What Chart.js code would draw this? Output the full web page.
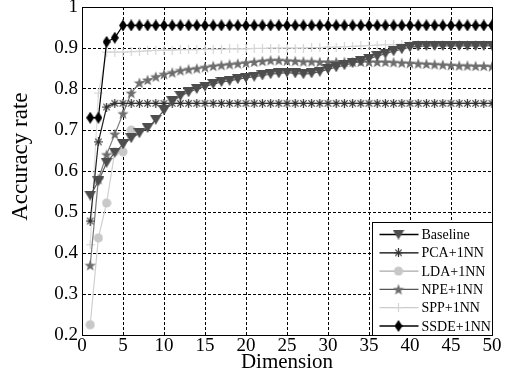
<!DOCTYPE html>
<html>
<head>
<meta charset="utf-8">
<script src="https://cdn.jsdelivr.net/npm/chart.js@4.4.0/dist/chart.umd.min.js"></script>
<style>
  html, body { margin: 0; padding: 0; background: #fff; }
  #wrap { width: 518px; height: 376px; }
</style>
</head>
<body>
<div id="wrap"><canvas id="line-chart"></canvas></div>
<script>
var dims = [1, 2, 3, 4, 5, 6, 7, 8, 9, 10, 11, 12, 13, 14, 15, 16, 17, 18, 19, 20,
  21, 22, 23, 24, 25, 26, 27, 28, 29, 30, 31, 32, 33, 34, 35, 36, 37, 38, 39, 40,
  41, 42, 43, 44, 45, 46, 47, 48, 49, 50];

var baseline = [0.54, 0.575, 0.62, 0.645, 0.665, 0.68, 0.692, 0.705, 0.725, 0.748,
  0.77, 0.783, 0.792, 0.80, 0.806, 0.812, 0.817, 0.82, 0.824, 0.827,
  0.83, 0.833, 0.836, 0.838, 0.84, 0.838, 0.836, 0.838, 0.842, 0.848,
  0.853, 0.858, 0.863, 0.868, 0.874, 0.88, 0.886, 0.892, 0.897, 0.902,
  0.904, 0.905, 0.905, 0.905, 0.905, 0.905, 0.905, 0.905, 0.905, 0.906];

var pca = [0.478, 0.671, 0.756, 0.765, 0.765, 0.765, 0.765, 0.765, 0.765, 0.765,
  0.765, 0.765, 0.765, 0.765, 0.765, 0.765, 0.765, 0.765, 0.765, 0.765,
  0.765, 0.765, 0.765, 0.765, 0.765, 0.765, 0.765, 0.765, 0.765, 0.765,
  0.765, 0.765, 0.765, 0.765, 0.765, 0.765, 0.765, 0.765, 0.765, 0.765,
  0.765, 0.765, 0.765, 0.765, 0.765, 0.765, 0.765, 0.765, 0.765, 0.765];

var lda = [0.225, 0.437, 0.522, 0.647, 0.647, 0.70];

var npe = [0.37, 0.58, 0.64, 0.69, 0.74, 0.79, 0.815, 0.822, 0.83, 0.836,
  0.84, 0.845, 0.848, 0.85, 0.853, 0.856, 0.858, 0.86, 0.862, 0.864,
  0.866, 0.868, 0.87, 0.87, 0.869, 0.868, 0.867, 0.867, 0.866, 0.866,
  0.866, 0.866, 0.866, 0.866, 0.866, 0.866, 0.866, 0.865, 0.864, 0.863,
  0.862, 0.861, 0.86, 0.859, 0.858, 0.857, 0.857, 0.856, 0.856, 0.855];

var spp = [0.42, 0.79, 0.89, 0.89, 0.89, 0.891, 0.892, 0.893, 0.894, 0.895,
  0.895, 0.896, 0.896, 0.896, 0.897, 0.897, 0.897, 0.898, 0.898, 0.898,
  0.899, 0.899, 0.9, 0.9, 0.9, 0.9, 0.9, 0.901, 0.901, 0.902,
  0.902, 0.903, 0.904, 0.905, 0.906, 0.907, 0.908, 0.908, 0.909, 0.909,
  0.909, 0.909, 0.909, 0.909, 0.909, 0.909, 0.909, 0.909, 0.909, 0.909];

var ssde = [0.73, 0.73, 0.915, 0.925, 0.955, 0.955, 0.955, 0.955, 0.955, 0.955,
  0.955, 0.955, 0.955, 0.955, 0.955, 0.955, 0.955, 0.955, 0.955, 0.955,
  0.955, 0.955, 0.955, 0.955, 0.955, 0.955, 0.955, 0.955, 0.955, 0.955,
  0.955, 0.955, 0.955, 0.955, 0.955, 0.955, 0.955, 0.955, 0.955, 0.955,
  0.955, 0.955, 0.955, 0.955, 0.955, 0.955, 0.955, 0.955, 0.955, 0.955];

var seriesNames = ["Baseline", "PCA+1NN", "LDA+1NN", "NPE+1NN", "SPP+1NN", "SSDE+1NN"];
var xTicks = [0, 5, 10, 15, 20, 25, 30, 35, 40, 45, 50];
var yTicks = [0.2, 0.3, 0.4, 0.5, 0.6, 0.7, 0.8, 0.9, 1];

var serif = "'Liberation Serif', 'Times New Roman', serif";

// small canvases used as point styles
function marker(w, h, draw) {
  var c = document.createElement('canvas');
  c.width = w; c.height = h;
  draw(c.getContext('2d'), w, h);
  return c;
}

var triDown = marker(12, 10, function (g, w, h) {
  g.fillStyle = '#4d4d4d';
  g.beginPath(); g.moveTo(0, 0); g.lineTo(w, 0); g.lineTo(w / 2, h); g.closePath(); g.fill();
});
var asterisk = marker(9, 9, function (g) {
  g.strokeStyle = '#333'; g.lineWidth = 1.2;
  g.beginPath();
  g.moveTo(4.5, 0); g.lineTo(4.5, 9);
  g.moveTo(0, 4.5); g.lineTo(9, 4.5);
  g.moveTo(1.3, 1.3); g.lineTo(7.7, 7.7);
  g.moveTo(7.7, 1.3); g.lineTo(1.3, 7.7);
  g.stroke();
});
var dot = marker(10, 10, function (g) {
  g.fillStyle = '#c8c8c8';
  g.beginPath(); g.arc(5, 5, 4.6, 0, Math.PI * 2); g.fill();
});
var star5 = marker(12, 12, function (g) {
  g.fillStyle = '#6e6e6e';
  g.beginPath();
  for (var i = 0; i < 10; i++) {
    var r = i % 2 ? 2.4 : 6;
    var a = -Math.PI / 2 + i * Math.PI / 5;
    g.lineTo(6 + r * Math.cos(a), 6.5 + r * Math.sin(a));
  }
  g.closePath(); g.fill();
});
var plus = marker(9, 9, function (g) {
  g.strokeStyle = '#d4d4d4'; g.lineWidth = 1.2;
  g.beginPath(); g.moveTo(4.5, 0); g.lineTo(4.5, 9); g.moveTo(0, 4.5); g.lineTo(9, 4.5); g.stroke();
});
var diamond = marker(8, 12, function (g, w, h) {
  g.fillStyle = '#000';
  g.beginPath(); g.moveTo(w / 2, 0); g.lineTo(w, h / 2); g.lineTo(w / 2, h); g.lineTo(0, h / 2); g.closePath(); g.fill();
});

function pts(values) {
  return values.map(function (v, i) { return { x: dims[i], y: v }; });
}

function ds(label, values, line, pointImg, legendLine, order) {
  return {
    label: label,
    data: pts(values),
    borderColor: line,
    backgroundColor: line,
    borderWidth: 1.2,
    pointStyle: pointImg,
    pointRadius: 5,
    tension: 0,
    fill: false,
    order: order,
    legendLine: legendLine
  };
}

var frame = {
  id: 'frame',
  afterDatasetsDraw: function (chart) {
    var a = chart.chartArea, c = chart.ctx;
    c.save();
    c.strokeStyle = '#000'; c.lineWidth = 1;
    c.strokeRect(Math.round(a.left) + 0.5, Math.round(a.top) + 0.5,
      Math.round(a.right - a.left), Math.round(a.bottom - a.top));
    c.restore();
  }
};

var boxLegend = {
  id: 'boxLegend',
  afterDraw: function (chart) {
    var a = chart.chartArea, c = chart.ctx;
    var right = Math.round(a.right) + 0.5, bottom = Math.round(a.bottom) + 0.5;
    var w = 120, h = 113, left = right - w, top = bottom - h;
    c.save();
    c.fillStyle = '#fff';
    c.fillRect(left, top, w, h);
    c.strokeStyle = '#000'; c.lineWidth = 1;
    c.strokeRect(left, top, w, h);
    c.font = "14px " + serif;
    c.textBaseline = 'middle';
    c.fillStyle = '#000';
    chart.data.datasets.forEach(function (d, i) {
      var y = top + 12 + i * 18.3;
      c.strokeStyle = d.legendLine; c.lineWidth = 1.3;
      c.beginPath(); c.moveTo(left + 7, y); c.lineTo(left + 46, y); c.stroke();
      var img = d.pointStyle;
      c.drawImage(img, left + 26 - img.width / 2, y - img.height / 2);
      c.fillText(d.label, left + 49, y + 1);
    });
    c.restore();
  }
};

new Chart(document.getElementById('line-chart'), {
  type: 'line',
  data: {
    datasets: [
      ds(seriesNames[0], baseline, '#5a5a5a', triDown, '#000', 1),
      ds(seriesNames[1], pca, '#222', asterisk, '#000', 2),
      ds(seriesNames[2], lda, '#cfcfcf', dot, '#aaa', 4),
      ds(seriesNames[3], npe, '#7a7a7a', star5, '#555', 3),
      ds(seriesNames[4], spp, '#dedede', plus, '#ccc', 5),
      ds(seriesNames[5], ssde, '#000', diamond, '#000', 0)
    ]
  },
  options: {
    responsive: true,
    maintainAspectRatio: false,
    animation: false,
    layout: { padding: { top: 7, right: 26, left: 0, bottom: 0 } },
    plugins: {
      legend: { display: false },
      tooltip: { enabled: false }
    },
    scales: {
      x: {
        type: 'linear',
        min: 0, max: 50,
        afterBuildTicks: function (s) { s.ticks = xTicks.map(function (v) { return { value: v }; }); },
        afterFit: function (s) { s.height = 41; s.paddingLeft = 0; s.paddingRight = 0; },
        grid: { color: '#000', lineWidth: 1, drawTicks: false },
        border: { color: '#000', width: 1, dash: [3, 2] },
        ticks: { color: '#000', padding: 2, maxRotation: 0, font: { family: serif, size: 19, lineHeight: 1 } },
        title: { display: true, text: 'Dimension', color: '#000', padding: { top: 0, bottom: 3 },
          font: { family: serif, size: 21, lineHeight: 1 } }
      },
      y: {
        min: 0.2, max: 1,
        afterBuildTicks: function (s) { s.ticks = yTicks.map(function (v) { return { value: v }; }); },
        afterFit: function (s) { s.width = 82; s.paddingTop = 0; s.paddingBottom = 0; },
        grid: { color: '#000', lineWidth: 1, drawTicks: false },
        border: { color: '#000', width: 1, dash: [3, 2] },
        ticks: {
          color: '#000', padding: 4,
          font: { family: serif, size: 19, lineHeight: 1 },
          callback: function (v) { return String(Number(v.toFixed(1))); }
        },
        title: { display: true, text: '     Accuracy rate', color: '#000', padding: { top: 9, bottom: 0 },
          font: { family: serif, size: 23, lineHeight: 1 } }
      }
    }
  },
  plugins: [frame, boxLegend]
});
</script>
</body>
</html>
